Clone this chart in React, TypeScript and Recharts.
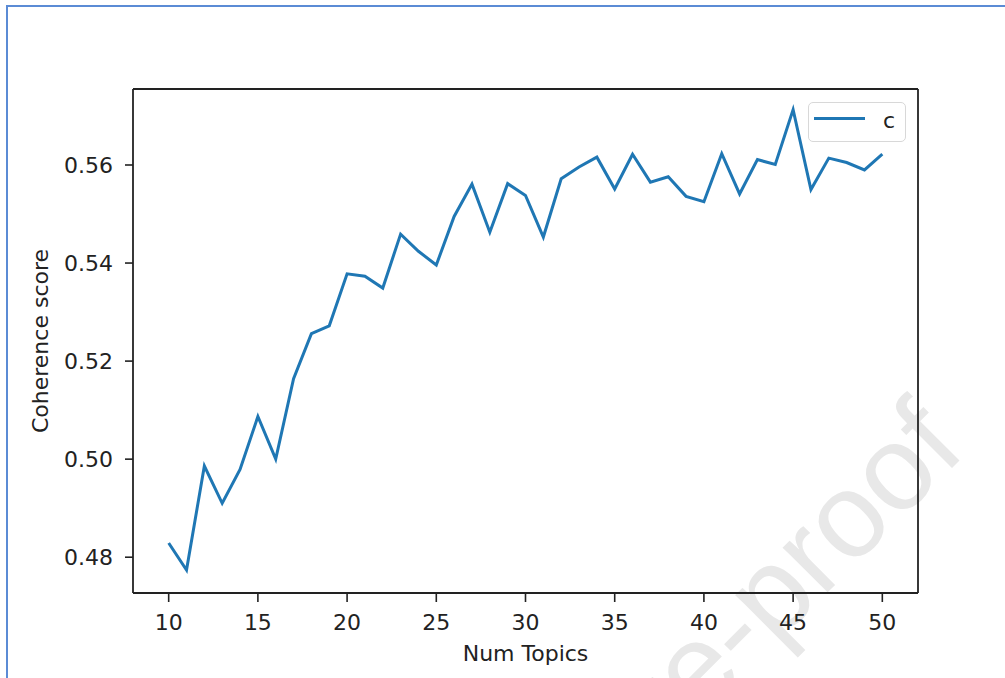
import React from 'react';
import { LineChart, Line, XAxis, YAxis, Legend, Label, ReferenceLine } from 'recharts';

const numTopics = [10, 11, 12, 13, 14, 15, 16, 17, 18, 19, 20, 21, 22, 23, 24, 25, 26, 27, 28, 29, 30, 31, 32, 33, 34, 35, 36, 37, 38, 39, 40, 41, 42, 43, 44, 45, 46, 47, 48, 49, 50];
const coherence = [
  0.4829, 0.4774, 0.4986, 0.4910, 0.4979, 0.5087, 0.5000, 0.5164, 0.5256, 0.5272,
  0.5378, 0.5373, 0.5349, 0.5459, 0.5424, 0.5396, 0.5495, 0.5561, 0.5463, 0.5562,
  0.5538, 0.5453, 0.5572, 0.5596, 0.5616, 0.5551, 0.5622, 0.5565, 0.5576, 0.5536,
  0.5525, 0.5623, 0.5541, 0.5611, 0.5601, 0.5713, 0.5550, 0.5614, 0.5605, 0.5590,
  0.5622,
];
const xTicks = [10, 15, 20, 25, 30, 35, 40, 45, 50];
const yTicks = [0.48, 0.5, 0.52, 0.54, 0.56];
const xDomain = [8, 52];
const yDomain = [0.4727, 0.5755];
const seriesName = 'c';
const xTitle = 'Num Topics';
const yTitle = 'Coherence score';
const watermark = 'Journal Pre-proof';

const data = numTopics.map((n, i) => ({ n, c: coherence[i] }));

const FONT = '"DejaVu Sans", sans-serif';
const INK = '#222';
const BLUE = '#1f77b4';

const YTitle = (props: any) => {
  const vb = props.viewBox;
  const cx = vb.x + 40;
  const cy = vb.y + vb.height / 2;
  return (
    <text x={cx} y={cy} transform={`rotate(-90 ${cx} ${cy})`} textAnchor="middle" dominantBaseline="central" fontSize={22} fontFamily={FONT} fill={INK}>
      {yTitle}
    </text>
  );
};

const XTitle = (props: any) => {
  const vb = props.viewBox;
  const cx = vb.x + vb.width / 2;
  const cy = vb.y + 60;
  return (
    <text x={cx} y={cy} textAnchor="middle" dominantBaseline="central" fontSize={22} fontFamily={FONT} fill={INK}>
      {xTitle}
    </text>
  );
};

const LegendBox = (props: any) => {
  const payload = props.payload || [];
  return (
    <div>
      {payload.map((p: any) => (
        <div key={p.value} style={{ boxSizing: 'border-box', width: 98, height: 40, border: '1.5px solid #d8d8d8', borderRadius: 5, background: '#fff', position: 'relative', fontFamily: FONT }}>
          <div style={{ position: 'absolute', left: 5, top: 14, width: 51, height: 3, background: p.color }} />
          <span style={{ position: 'absolute', left: 74, top: 3, fontSize: 22, lineHeight: '30px', color: INK }}>{p.value}</span>
        </div>
      ))}
    </div>
  );
};

export default function App() {
  return (
    <div style={{ position: 'absolute', left: 0, top: 0, width: 1005, height: 678, background: '#fff', overflow: 'hidden' }}>
      <div style={{ position: 'absolute', left: 6, top: 5, width: 1200, height: 900, borderLeft: '2px solid #5b8bd5', borderTop: '2px solid #5b8bd5' }} />
      <svg width={1005} height={678} style={{ position: 'absolute', left: 0, top: 0 }}>
        <text x={968} y={452} transform="rotate(-45 968 452)" textAnchor="end" fontSize={120} fill="#e8e8e8" fontFamily='"Liberation Sans", Arial, sans-serif'>
          {watermark}
        </text>
      </svg>
      <div style={{ position: 'absolute', left: 0, top: 0 }}>
        <LineChart width={1005} height={678} data={data} margin={{ top: 89, right: 87, bottom: 0, left: 0 }}>
          <XAxis
            dataKey="n"
            type="number"
            domain={xDomain}
            ticks={xTicks}
            allowDataOverflow
            height={85}
            tickSize={9}
            tickMargin={12}
            tick={{ fill: INK, fontSize: 22, fontFamily: FONT }}
            axisLine={{ stroke: INK, strokeWidth: 1.8 }}
            tickLine={{ stroke: INK, strokeWidth: 1.6 }}
          >
            <Label content={<XTitle />} />
          </XAxis>
          <YAxis
            type="number"
            domain={yDomain}
            ticks={yTicks}
            allowDataOverflow
            width={133}
            tickSize={8}
            tickMargin={12}
            tickFormatter={(v: number) => v.toFixed(2)}
            tick={{ fill: INK, fontSize: 22, fontFamily: FONT }}
            axisLine={{ stroke: INK, strokeWidth: 1.8 }}
            tickLine={{ stroke: INK, strokeWidth: 1.6 }}
          >
            <Label content={<YTitle />} />
          </YAxis>
          <ReferenceLine y={yDomain[1]} stroke={INK} strokeWidth={1.8} ifOverflow="extendDomain" />
          <ReferenceLine x={xDomain[1]} stroke={INK} strokeWidth={1.8} ifOverflow="extendDomain" />
          <Legend layout="vertical" verticalAlign="middle" align="center" wrapperStyle={{ top: 102, left: 808, width: 98, height: 40 }} content={<LegendBox />} />
          <Line dataKey="c" name={seriesName} stroke={BLUE} strokeWidth={3} dot={false} isAnimationActive={false} />
        </LineChart>
      </div>
    </div>
  );
}
